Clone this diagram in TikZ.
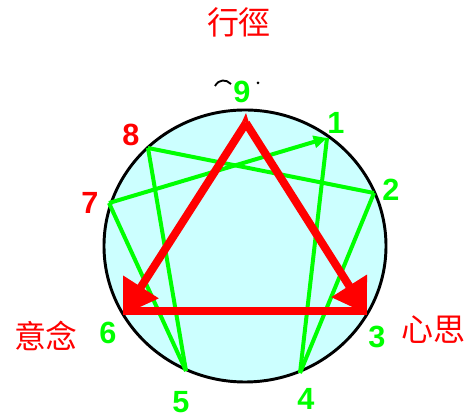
\documentclass[tikz,border=0pt]{standalone}
\usepackage{fontspec}
\setmainfont{Liberation Sans}
\newfontfamily\cjkfont{Noto Sans CJK TC}
\usetikzlibrary{arrows.meta,positioning}
\definecolor{ngreen}{RGB}{0,255,0}
\definecolor{nred}{RGB}{255,0,0}
\definecolor{ncyan}{RGB}{204,255,255}

\begin{document}
\begin{tikzpicture}[
  x=0.75pt, y=-0.75pt,
  num/.style={font=\fontsize{23}{23}\selectfont\bfseries, inner sep=0pt},
  word/.style={font=\fontsize{24}{24}\selectfont\cjkfont, text=nred, inner sep=0pt},
  hexad/.style={draw=ngreen, line width=3pt},
  triad/.style={draw=nred, line width=6pt},
  bigtip/.style={-{Triangle[length=25pt,width=30pt]}}
]
\useasboundingbox (0,0) rectangle (469,420);

% ================= Circle =================
\draw[fill=ncyan, line width=2.2pt] (245,246) ellipse [x radius=141, y radius=136];

% ================= Points =================
\coordinate (p1) at (327,138);
\coordinate (p2) at (374,193);
\coordinate (p3) at (367,314);
\coordinate (p4) at (300,373);
\coordinate (p5) at (186,371);
\coordinate (p6) at (123,315);
\coordinate (p7) at (109,203);
\coordinate (p8) at (148,148);
\coordinate (p9) at (246,123);
\coordinate (b6) at (123,311);
\coordinate (b3) at (367,311);

% ================= Hexad =================
\draw[hexad] (p8) -- (p2);
\draw[hexad] (p8) -- (p5);
\draw[hexad] (p7) -- (p5);
\draw[hexad] (p1) -- (p4);
\draw[hexad] (p2) -- (p4);
\draw[hexad, -{Triangle[length=10pt,width=9pt]}] (p7) -- (p1);

% ================= Triangle =================
\draw[triad] (b6) -- (b3);
\draw[triad, bigtip, miter limit=4] (p9) -- (p6);
\draw[triad, bigtip, miter limit=4] (p9) -- (p3);
\fill[nred] (p9) ++(-3.6,-2) -- (246,113) -- ++(3.6,12) -- cycle;

% ================= Labels =================
\node[num, text=ngreen] (n9) at (242,92) {9};
\node[num, text=ngreen] (n1) at (336,123) {1};
\node[num, text=ngreen] (n2) at (391,190) {2};
\node[num, text=ngreen] (n3) at (377,337) {3};
\node[num, text=ngreen] (n4) at (306,399) {4};
\node[num, text=ngreen] (n5) at (181,402) {5};
\node[num, text=ngreen] (n6) at (108,333) {6};
\node[num, text=nred] (n7) at (90,203) {7};
\node[num, text=nred] (n8) at (131,135) {8};

\node[word] (act) at (239,22) {行徑};
\node[word] (will) at (46,336) {意念};
\node[word] (mind) at (434,330) {心思};

% marks beside the 9
\draw[line width=1.4pt] (215,86) .. controls (219,79) and (226,79) .. (231,84);
\fill (258,83) circle [radius=1.5];

\end{tikzpicture}
\end{document}
